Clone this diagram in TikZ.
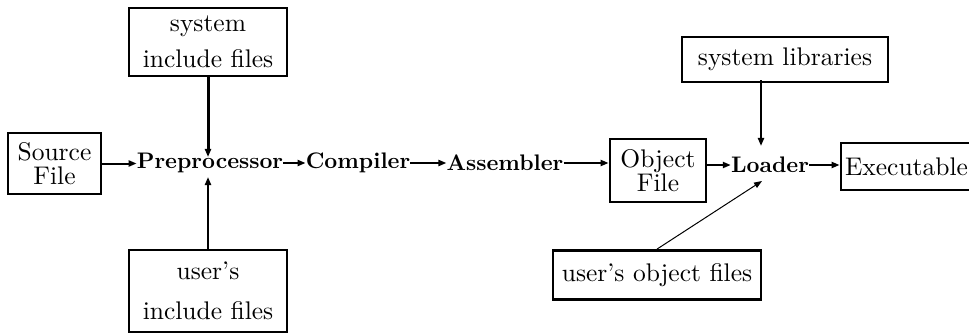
\documentclass[tikz,border=0pt]{standalone}
\usepackage{fontspec}
\setmainfont{lmroman10-regular.otf}[BoldFont=lmroman10-bold.otf]
\usetikzlibrary{arrows.meta}
\begin{document}
\begin{tikzpicture}[x=1pt,y=-1pt,
  box/.style={draw,line width=2.8pt,inner sep=0pt,align=center,font=\fontsize{25.5}{38}\selectfont},
  stage/.style={inner sep=0pt,font=\fontsize{22.5}{26}\selectfont\bfseries},
  conn/.style={line width=2pt,-{Triangle[length=8pt,width=6pt]}},
  ]
\useasboundingbox (0,0) rectangle (969,334);
\node[box,minimum width=158,minimum height=68,font=\fontsize{25.5}{36}\selectfont] (sysinc) at (208,42) {system\\include files};
\node[box,minimum width=158,minimum height=82,font=\fontsize{25.5}{40}\selectfont] (userinc) at (208,291) {user's\\include files};
\node[box,minimum width=93,minimum height=61,font=\fontsize{25.5}{23.5}\selectfont] (src) at (54.5,163.5) {Source\\File};
\node[stage] (pre) at (210,163) {Preprocessor};
\node[stage] (comp) at (358,163) {Compiler};
\node[stage] (asm) at (505,163) {Assembler};
\node[box,minimum width=96,minimum height=63,font=\fontsize{25.5}{23.5}\selectfont] (obj) at (658,170.5) {Object\\File};
\node[stage] (load) at (770,165) {Loader};
\node[box,minimum width=140,minimum height=47] (exe) at (911,166.5) {\hspace*{-9pt}Executable};
\node[box,minimum width=206,minimum height=45] (syslib) at (785,59.5) {system libraries};
\node[box,minimum width=208,minimum height=49] (userobj) at (657,275) {user's object files};
\coordinate (ptop) at (208,157);
\coordinate (pbot) at (208,177);
\coordinate (ltop) at (761,146);
\coordinate (lbot) at (762,181);
\draw[conn] (src.east) -- (src.east -| pre.west);
\draw[conn] (pre.east) -- (comp.west);
\draw[conn] (comp.east) -- (asm.west);
\draw[conn] (asm.east) -- (asm.east -| obj.west);
\draw[conn] (obj.east |- load.west) -- (load.west);
\draw[conn] (load.east) -- (load.east -| exe.west);
\draw[conn,line width=3pt] (sysinc.south -| ptop) -- (ptop);
\draw[conn] (userinc.north -| pbot) -- (pbot);
\draw[conn] ([yshift=3]syslib.south -| ltop) -- (ltop);
\draw[conn,line width=1pt] (userobj.north) -- (lbot);
\end{tikzpicture}
\end{document}
